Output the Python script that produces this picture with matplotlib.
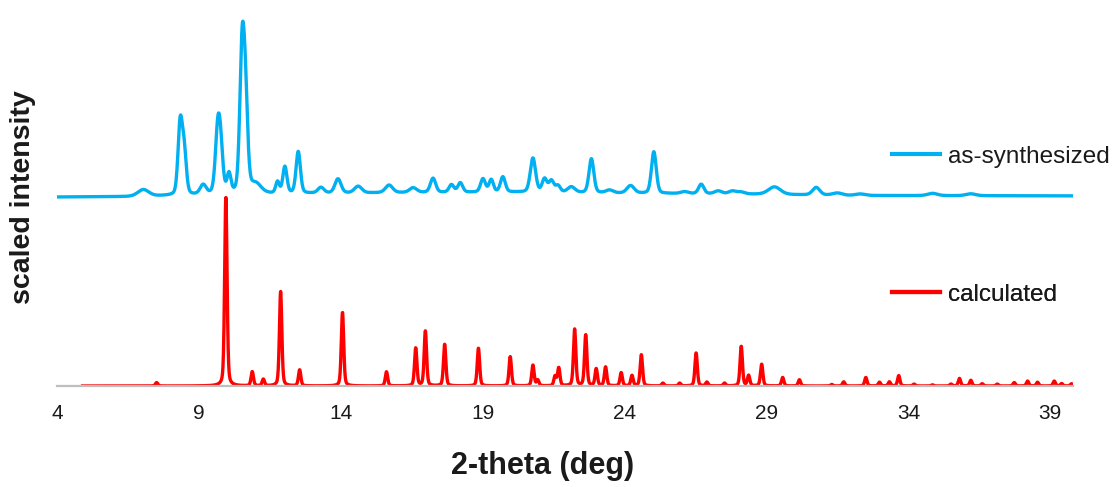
import numpy as np
import matplotlib
matplotlib.use("Agg")
import matplotlib.pyplot as plt
from matplotlib.lines import Line2D

plt.rcParams['font.family'] = ['Liberation Sans', 'DejaVu Sans']

# ---- calculated pattern: reflection positions (2-theta, deg) and intensities
calc_pos = [7.51, 9.95, 10.88, 11.27, 11.88, 12.55, 14.06, 15.61, 16.64, 16.98,
            17.66, 18.85, 19.97, 20.77, 20.94, 21.55, 21.68, 22.24, 22.63, 23.00,
            23.33, 23.88, 24.26, 24.59, 25.35, 25.94, 26.52, 26.90, 27.52, 28.11,
            28.37, 28.83, 29.57, 30.16, 31.30, 31.72, 32.50, 32.98, 33.33, 33.66,
            34.20, 34.85, 35.50, 35.80, 36.20, 36.60, 37.13, 37.73, 38.20, 38.55,
            39.14, 39.40, 39.75]
calc_int = [1.8, 100, 7.5, 3.5, 50, 8.5, 39, 7.5, 20, 29,
            22, 20, 15.5, 11, 3, 5, 9.5, 30, 27, 9,
            10, 7, 5.5, 16.5, 1.5, 1.5, 17.5, 2, 1.5, 21,
            5.5, 11.5, 4.5, 3.3, 0.8, 2.2, 4.5, 2, 2.2, 5.5,
            1, 0.6, 1, 4, 3, 1.2, 1, 1.8, 2.6, 2,
            2.6, 1.3, 1.2]
calc_start = 4.9

# ---- measured (as-synthesized) pattern: observed peaks, intensities, widths
meas_pos = [7.04, 8.34, 8.48, 9.15, 9.66, 9.76, 10.06, 10.52, 10.64, 11.00,
            11.77, 12.03, 12.50, 13.30, 13.90, 14.61, 15.70, 16.55, 17.25, 17.90,
            18.21, 19.01, 19.30, 19.71, 20.77, 21.18, 21.42, 21.65, 22.12, 22.83,
            23.47, 24.21, 25.03, 26.11, 26.70, 27.30, 27.80, 28.10, 29.28, 30.75,
            31.50, 32.30, 34.85, 36.20]
meas_int = [3.5, 37, 22, 5, 29, 22, 10, 72, 45, 5,
            6, 14, 22, 3, 7.5, 3.5, 4, 2.5, 7.5, 4,
            5, 7, 6.5, 8, 18, 7, 6, 3.5, 3, 18,
            1.5, 4, 22, 1, 5, 1.5, 1.5, 1, 4, 4,
            1.2, 0.8, 1.2, 1]
meas_fwhm = [0.45, 0.18, 0.18, 0.25, 0.2, 0.2, 0.16, 0.19, 0.19, 0.45,
             0.15, 0.17, 0.18, 0.25, 0.25, 0.3, 0.3, 0.3, 0.22, 0.2,
             0.2, 0.2, 0.18, 0.2, 0.22, 0.2, 0.2, 0.2, 0.3, 0.2,
             0.3, 0.3, 0.2, 0.3, 0.22, 0.3, 0.3, 0.3, 0.5, 0.3,
             0.4, 0.4, 0.4, 0.4]
# background of the measured pattern (deg, scaled intensity), stacked offset included
meas_bg_x = [4.0, 6.5, 9.0, 12.0, 16.0, 20.0, 24.0, 28.0, 32.0, 39.8]
meas_bg_y = [100.0, 100.2, 101.0, 101.8, 102.3, 102.6, 102.0, 101.6, 100.8, 100.6]

x_ticks = [4, 9, 14, 19, 24, 29, 34, 39]
x_range = (4, 39.8)


def pseudo_voigt(grid, centres, heights, fwhm, eta):
    fwhm = np.broadcast_to(np.asarray(fwhm, float), (len(centres),))
    out = np.zeros_like(grid)
    for c, h, w in zip(centres, heights, fwhm):
        d = (grid - c) / (w / 2)
        g = np.exp(-np.log(2) * d ** 2)
        lo = 1 / (1 + d ** 2)
        out += h * (eta * lo + (1 - eta) * g)
    return out


grid_c = np.linspace(calc_start, x_range[1], 4000)
y_calc = pseudo_voigt(grid_c, calc_pos, calc_int, 0.10, 0.35)

grid_m = np.linspace(x_range[0], x_range[1], 4000)
y_meas = np.interp(grid_m, meas_bg_x, meas_bg_y) + \
    pseudo_voigt(grid_m, meas_pos, meas_int, meas_fwhm, 0.25)

blue = '#00B0F0'
red = '#FF0000'
ink = '#1A1A1A'

fig = plt.figure(figsize=(11.14, 4.87), dpi=100)
ax = fig.add_axes([57 / 1114, (487 - 386) / 487, 1016 / 1114, 378 / 487])

ax.plot(grid_m, y_meas, color=blue, lw=2.4, solid_joinstyle='round')
ax.plot(grid_c, y_calc, color=red, lw=2.4, solid_joinstyle='round')

ax.set_xlim(*x_range)
ax.set_ylim(0, 200)
ax.set_xticks(x_ticks)
ax.set_yticks([])
for s in ('top', 'right', 'left'):
    ax.spines[s].set_visible(False)
ax.spines['bottom'].set_color('#BFBFBF')
ax.spines['bottom'].set_linewidth(1.6)
ax.tick_params(axis='x', length=0, pad=13, labelsize=15, labelcolor=ink)
ax.set_xlabel('2-theta (deg)', fontsize=22, fontweight='bold', color=ink)
ax.xaxis.set_label_coords(0.478, -0.172)
ax.set_ylabel('scaled intensity', fontsize=20.5, fontweight='bold', color=ink)
ax.yaxis.set_label_coords(-0.021, 0.5)

for lab, col, ypos in (('as-synthesized', blue, 0.606), ('calculated', red, 0.241)):
    leg = ax.legend(handles=[Line2D([], [], color=col, lw=3)], labels=[lab],
                    loc='center left', bbox_to_anchor=(0.822, ypos),
                    frameon=False, fontsize=17.5, handlelength=1.95,
                    handletextpad=0.33, borderpad=0, borderaxespad=0)
    for t in leg.get_texts():
        t.set_color(ink)
    ax.add_artist(leg)

fig.savefig('out.png', dpi=100)
